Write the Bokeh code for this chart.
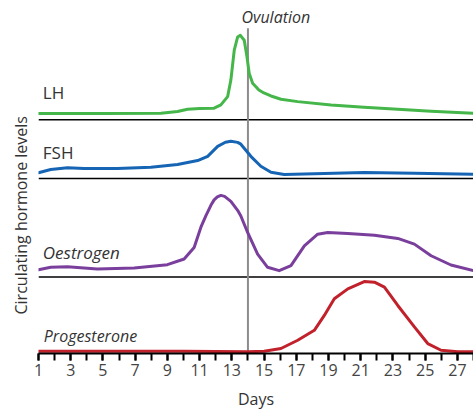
from bokeh.plotting import figure
from bokeh.models import Range1d, FixedTicker, Label, Title
from bokeh.embed import file_html
from bokeh.resources import INLINE

# ---- data (levels in arbitrary units above each band's baseline) ----
lh_days = [1, 5, 8.6, 9.63, 10.25, 11.0, 11.9, 12.32, 12.74, 12.94, 13.15, 13.36, 13.53,
           13.77, 13.94, 14.08, 14.29, 14.68, 14.99, 15.43, 16.05, 17.09, 19.16, 21.2,
           23.3, 25.37, 28]
lh_level = [6.3, 6.3, 6.5, 8.3, 10.7, 11.3, 11.7, 15, 23.3, 40, 70, 83.3, 85,
            80, 63.3, 46.7, 36.7, 30, 27, 24, 20.7, 18.3, 15, 12.7,
            10.7, 8.7, 6.7]

fsh_days = [1, 1.76, 2.8, 3.83, 5.9, 7.98, 9.63, 10.88, 11.5, 12.12, 12.6, 12.94, 13.36,
            13.56, 14.18, 14.8, 15.43, 16.25, 18.12, 21.22, 24.33, 28]
fsh_level = [5.7, 9, 10.7, 10, 10, 11.3, 14, 18, 22.3, 32.3, 36.5, 37.5, 36.3,
             34.5, 22.3, 12.3, 6.3, 4, 4.7, 6, 5.3, 4.3]

oes_days = [1, 1.76, 2.8, 4.65, 6.94, 9.0, 10.04, 10.66, 11.08, 11.4, 11.7, 11.9,
            12.1, 12.32, 12.55, 12.94, 13.36, 13.56, 13.98, 14.6, 15.22, 15.94, 16.67,
            17.5, 18.33, 18.95, 20.2, 21.85, 23.3, 24.33, 25.37, 26.6, 28]
oes_level = [7.3, 9.7, 10.3, 8, 9, 12.3, 18, 29.7, 50, 62, 72, 77.5,
             80.5, 82, 81, 76, 67, 61.3, 44.7, 23, 9.7, 6.3, 11.3,
             31.3, 43, 44.7, 43.7, 42, 38.7, 33, 21.3, 12, 6.3]

pro_days = [1, 5, 10, 14.0, 15.01, 16.05, 17.09, 18.12, 18.74, 19.36, 20.2, 21.22,
            21.85, 22.47, 23.3, 24.33, 25.16, 25.99, 27.02, 28]
pro_level = [2.3, 2.3, 2.3, 1.7, 2.3, 5, 13.3, 23.3, 38.3, 55, 65, 72.3,
             71.7, 66.7, 48.3, 26.7, 10, 3.3, 1.7, 1.7]

hormone_names = ["LH", "FSH", "Oestrogen", "Progesterone"]
all_days = list(range(1, 29))
tick_days = list(range(1, 28, 2))
ovulation_day = 14

# ---- layout constants ----
offsets = {"LH": 235, "FSH": 176, "Oestrogen": 77, "Progesterone": 0}
separators = [235, 176, 77]
colors = {"LH": "#45b649", "FSH": "#1665b4", "Oestrogen": "#7a3f9c", "Progesterone": "#c1212b"}

p = figure(width=473, height=412, output_backend="svg", toolbar_location=None,
           x_range=Range1d(1, 28), y_range=Range1d(0, 355),
           min_border_left=38, min_border_right=0, min_border_top=0, min_border_bottom=57)
p.outline_line_color = None
p.grid.visible = False
p.yaxis.visible = False

ax = p.xaxis[0]
ax.ticker = FixedTicker(ticks=tick_days, minor_ticks=all_days)
ax.axis_line_width = 2
ax.axis_line_color = "black"
ax.major_tick_in = 0
ax.major_tick_out = 7
ax.minor_tick_in = 0
ax.minor_tick_out = 7
ax.major_tick_line_width = 2
ax.minor_tick_line_width = 2
ax.major_tick_line_color = "black"
ax.minor_tick_line_color = "black"
ax.major_label_text_font = "Open Sans"
ax.major_label_text_font_size = "16px"
ax.major_label_text_color = "#444444"
ax.major_label_standoff = 3
ax.axis_label = "Days"
ax.axis_label_text_font = "Open Sans"
ax.axis_label_text_font_size = "16px"
ax.axis_label_text_font_style = "normal"
ax.axis_label_text_color = "#333333"
ax.axis_label_standoff = 9

# separators
for s in separators:
    p.line([all_days[0], all_days[-1]], [s, s], line_color="black", line_width=1.5)

# ovulation line
p.line([ovulation_day, ovulation_day], [0, 327], line_color="#8c8c8c", line_width=2)

series = {
    "LH": (lh_days, lh_level),
    "FSH": (fsh_days, fsh_level),
    "Oestrogen": (oes_days, oes_level),
    "Progesterone": (pro_days, pro_level),
}
for name in hormone_names:
    d, lv = series[name]
    off = offsets[name]
    p.line(d, [off + v for v in lv], line_color=colors[name], line_width=3,
           line_join="round", line_cap="round")

label_pos = {"LH": (1.27, 262, "normal", "17px"), "FSH": (1.27, 202, "normal", "17px"),
             "Oestrogen": (1.27, 102, "italic", "17px"),
             "Progesterone": (1.33, 18, "italic", "16px")}
for name in hormone_names:
    x, y, st, sz = label_pos[name]
    p.add_layout(Label(x=x, y=y, text=name, text_font="Open Sans", text_font_size=sz,
                       text_font_style=st, text_color="#333333",
                       text_align="left", text_baseline="middle"))

p.add_layout(Label(x=13.6, y=338, text="Ovulation", text_font="Open Sans",
                   text_font_size="16px", text_font_style="italic", text_color="#333333",
                   text_align="left", text_baseline="middle"))

ylab = Title(text="Circulating hormone levels", align="left", offset=39, standoff=14,
             text_font="Open Sans", text_font_size="16px", text_font_style="normal",
             text_color="#333333")
p.add_layout(ylab, "left")

open("out.html", "w").write(file_html(p, INLINE))
